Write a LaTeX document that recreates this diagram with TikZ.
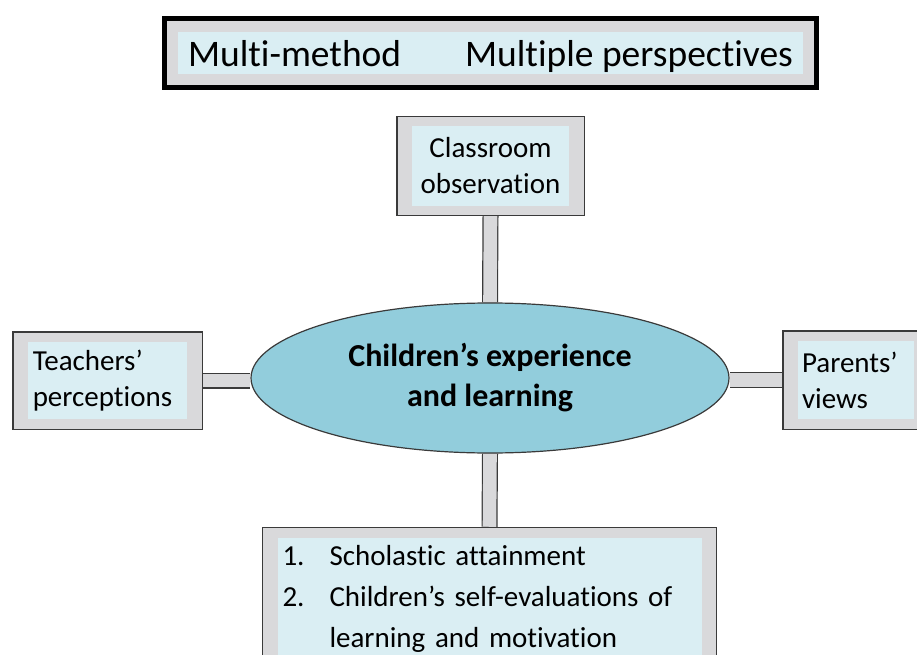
\documentclass[tikz,border=0pt]{standalone}
\usepackage{fontspec}
\setmainfont{Carlito}[Ligatures={TeX,NoCommon}]
\usetikzlibrary{calc}
\usetikzlibrary{shapes}
\usetikzlibrary{backgrounds}
\definecolor{boxgray}{HTML}{D9D9DB}
\definecolor{paleblue}{HTML}{DAEEF3}
\definecolor{hubblue}{HTML}{92CDDC}
\definecolor{edge}{HTML}{3A3A3A}
\tikzset{
  panel/.style 2 args={draw=edge, line width=1.5pt, fill=boxgray, inner sep=0pt,
    path picture={\fill[paleblue] ($(path picture bounding box.north west)+(#1,#2)$) rectangle ($(path picture bounding box.south east)+(-#1,-#2)$);}},
  stem/.style={draw=edge, line width=1.2pt, double=boxgray, double distance=13.6pt},
  boxtext/.style={font=\fontsize{29}{36}\selectfont},
}

\begin{document}
\begin{tikzpicture}[x=1pt, y=-1pt]
        \useasboundingbox (0,0) rectangle (917,655);
        \clip (0,0) rectangle (917,655);
        % heading
        \node[panel={13.5}{13.5}, draw=black, line width=4.5pt, minimum width=652pt, minimum height=69pt, text depth=0pt, font=\fontsize{37.5}{40}\selectfont] (top) at (490.5,53) {Multi-method\hspace{64pt}Multiple perspectives};
        % centre
        \node[ellipse, draw=edge, line width=1.2pt, fill=hubblue, minimum width=478pt, minimum height=150pt, inner sep=0pt, align=center, font=\fontsize{32}{40}\selectfont\bfseries] (hub) at (490,378) {Children's experience\\and learning};
        % sources
        \node[panel={15}{9}, boxtext, align=center, minimum width=187.5pt, minimum height=98.5pt] (cls) at (490.5,166) {Classroom\\observation};
        \node[panel={15}{10}, boxtext, align=left, text width=149.5pt, inner xsep=20pt, minimum width=189.5pt, minimum height=97.5pt] (tea) at (107.5,380.5) {Teachers'\\perceptions};
        \node[panel={15}{10}, boxtext, align=left, text width=108pt, inner xsep=19pt, minimum width=146pt, minimum height=98.5pt] (par) at (856,380) {Parents'\\views};
        \node[panel={15}{10}, anchor=north, align=left, text width=414pt, inner xsep=19pt, minimum width=454pt, minimum height=142pt, font=\fontsize{29}{41}\selectfont] (out) at (489.5,526.75) {\begin{tabular}{@{}l@{\hspace{25pt}}l@{}}1. & Scholastic attainment\\ 2. & Children's self-evaluations of\\ & learning and motivation\end{tabular}};
        % stems
        \begin{scope}[on background layer]
        \draw[stem] (cls.south) -- (hub.north);
        \draw[stem] (hub.south) -- (out.north);
        \draw[stem] (tea.east) -- (tea.east -| hub.west);
        \draw[stem] (par.west) -- (par.west -| hub.east);
        \end{scope}
    \end{tikzpicture}
\end{document}
